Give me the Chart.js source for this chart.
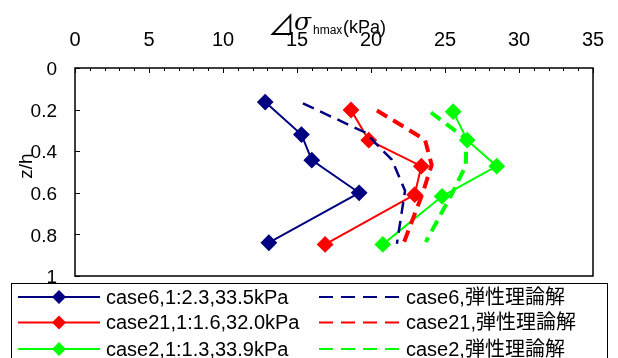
<!DOCTYPE html>
<html>
<head>
<meta charset="utf-8">
<script src="https://cdn.jsdelivr.net/npm/chart.js@4.4.0/dist/chart.umd.min.js"></script>
<style>
  html, body { margin: 0; padding: 0; background: #fff; }
  #wrap { width: 618px; height: 358px; }
</style>
</head>
<body>
<div id="wrap"><canvas id="c" width="618" height="358"></canvas></div>
<script>
// z/h (depth ratio) and ⊿σhmax (kPa)
const zh6 = [0.164, 0.32, 0.443, 0.6, 0.84];
const sig6 = [12.85, 15.3, 16.0, 19.2, 13.1];
const zh21 = [0.202, 0.347, 0.472, 0.609, 0.848];
const sig21 = [18.65, 19.85, 23.4, 22.95, 16.9];
const zh2 = [0.21, 0.347, 0.472, 0.617, 0.848];
const sig2 = [25.55, 26.5, 28.5, 24.8, 20.8];

// elastic theory curves
const zhTh6 = [0.17, 0.31, 0.44, 0.59, 0.845];
const th6 = [15.4, 19.6, 21.4, 22.3, 21.75];
const zhTh21 = [0.204, 0.345, 0.466, 0.6, 0.843];
const th21 = [20.4, 23.65, 24.1, 23.5, 22.2];
const zhTh2 = [0.214, 0.342, 0.47, 0.6, 0.837];
const th2 = [24.05, 26.45, 26.4, 25.5, 23.7];

const labels = ['case6,1:2.3,33.5kPa', 'case6,弾性理論解',
                'case21,1:1.6,32.0kPa', 'case21,弾性理論解',
                'case2,1:1.3,33.9kPa', 'case2,弾性理論解'];
const xTicks = [0, 5, 10, 15, 20, 25, 30, 35];
const yTicks = [0, 0.2, 0.4, 0.6, 0.8, 1];

const NAVY = '#000080', RED = '#ff0000', GREEN = '#00ff00';
const FONT = '"Liberation Sans", "Noto Sans CJK JP", sans-serif';

function pts(xs, zs) {
  return xs.map((v, i) => ({ x: v, y: zs[i] }));
}

function solid(label, xs, zs, col) {
  return {
    label: label, data: pts(xs, zs), showLine: true,
    borderColor: col, backgroundColor: col, borderWidth: 2,
    pointStyle: 'rectRot', pointRadius: 7, pointHoverRadius: 7
  };
}
function dashed(label, xs, zs, col, w) {
  return {
    label: label, data: pts(xs, zs), showLine: true,
    borderColor: col, backgroundColor: col, borderWidth: w,
    borderDash: [12, 7], pointRadius: 0, pointHoverRadius: 0
  };
}

// ticks, frame, axis titles and legend
const decor = {
  id: 'decor',
  beforeDatasetsDraw(chart) {
    const ctx = chart.ctx, a = chart.chartArea;
    const xs = chart.scales.x, ys = chart.scales.y;
    ctx.save();
    ctx.strokeStyle = '#000';
    ctx.lineWidth = 1;
    for (let v = 0; v <= 35; v++) {
      const px = Math.round(xs.getPixelForValue(v)) + 0.5;
      ctx.beginPath();
      ctx.moveTo(px, a.top);
      ctx.lineTo(px, a.top + (v % 5 === 0 ? 5 : 3));
      ctx.stroke();
    }
    yTicks.forEach(v => {
      const py = Math.round(ys.getPixelForValue(v)) + 0.5;
      ctx.beginPath();
      ctx.moveTo(a.left, py);
      ctx.lineTo(a.left + 5, py);
      ctx.stroke();
    });
    ctx.lineWidth = 1.5;
    ctx.strokeRect(a.left, a.top, a.right - a.left, a.bottom - a.top);

    // x title
    ctx.fillStyle = '#000';
    ctx.textBaseline = 'alphabetic';
    ctx.textAlign = 'left';
    ctx.font = '27px "Noto Sans CJK JP", sans-serif';
    ctx.fillText('⊿', 268, 35);
    ctx.font = 'italic 25px "DejaVu Serif", serif';
    ctx.fillText('σ', 294, 30);
    ctx.font = '12px ' + FONT;
    ctx.fillText('hmax', 313, 34);
    ctx.font = '18px ' + FONT;
    ctx.fillText('(kPa)', 343, 33);

    // y title
    ctx.save();
    ctx.translate(27, 166);
    ctx.rotate(-Math.PI / 2);
    ctx.textAlign = 'center';
    ctx.textBaseline = 'middle';
    ctx.font = '19px ' + FONT;
    ctx.fillText('z/h', 0, 0);
    ctx.restore();
    ctx.restore();
  },
  afterDraw(chart) {
    const ctx = chart.ctx;
    ctx.save();
    ctx.fillStyle = '#fff';
    ctx.fillRect(11, 283, 596, 90);
    ctx.strokeStyle = '#000';
    ctx.lineWidth = 1;
    ctx.strokeRect(11.5, 283.5, 596, 90);
    const rows = [297, 322.5, 349];
    const ds = chart.data.datasets;
    ctx.font = '20px ' + FONT;
    ctx.textBaseline = 'middle';
    ctx.textAlign = 'left';
    for (let r = 0; r < 3; r++) {
      const y = rows[r];
      const s = ds[r * 2], d = ds[r * 2 + 1];
      // solid sample
      ctx.strokeStyle = s.borderColor;
      ctx.lineWidth = 2;
      ctx.setLineDash([]);
      ctx.beginPath();
      ctx.moveTo(18, y); ctx.lineTo(100, y); ctx.stroke();
      ctx.fillStyle = s.borderColor;
      ctx.beginPath();
      ctx.moveTo(59, y - 7); ctx.lineTo(66, y); ctx.lineTo(59, y + 7); ctx.lineTo(52, y);
      ctx.closePath(); ctx.fill();
      ctx.fillStyle = '#000';
      ctx.fillText(s.label, 106, y + 1);
      // dashed sample
      ctx.strokeStyle = d.borderColor;
      ctx.lineWidth = 2;
      ctx.setLineDash([14, 8]);
      ctx.beginPath();
      ctx.moveTo(319, y); ctx.lineTo(400, y); ctx.stroke();
      ctx.setLineDash([]);
      ctx.fillText(d.label, 406, y + 1);
    }
    ctx.restore();
  }
};

new Chart(document.getElementById('c'), {
  type: 'scatter',
  data: {
    datasets: [
      solid(labels[0], sig6, zh6, NAVY),
      dashed(labels[1], th6, zhTh6, NAVY, 2.5),
      solid(labels[2], sig21, zh21, RED),
      dashed(labels[3], th21, zhTh21, RED, 4),
      solid(labels[4], sig2, zh2, GREEN),
      dashed(labels[5], th2, zhTh2, GREEN, 4)
    ]
  },
  options: {
    responsive: false,
    animation: false,
    layout: { padding: { top: 0, left: 0, right: 25, bottom: 82 } },
    plugins: { legend: { display: false }, tooltip: { enabled: false } },
    scales: {
      x: {
        type: 'linear', position: 'top', min: 0, max: 35,
        grid: { display: false },
        border: { display: false },
        afterBuildTicks: s => { s.ticks = xTicks.map(v => ({ value: v })); },
        afterFit: s => { s.height = 68; },
        ticks: { padding: 8, color: '#000', font: { family: FONT, size: 20 } }
      },
      y: {
        type: 'linear', reverse: true, min: 0, max: 1,
        grid: { display: false },
        border: { display: false },
        afterBuildTicks: s => { s.ticks = yTicks.map(v => ({ value: v })); },
        afterFit: s => { s.width = 75; },
        ticks: { padding: 10, color: '#000', font: { family: FONT, size: 19 },
                 labelOffset: 2, callback: v => String(v) }
      }
    }
  },
  plugins: [decor]
});
</script>
</body>
</html>
